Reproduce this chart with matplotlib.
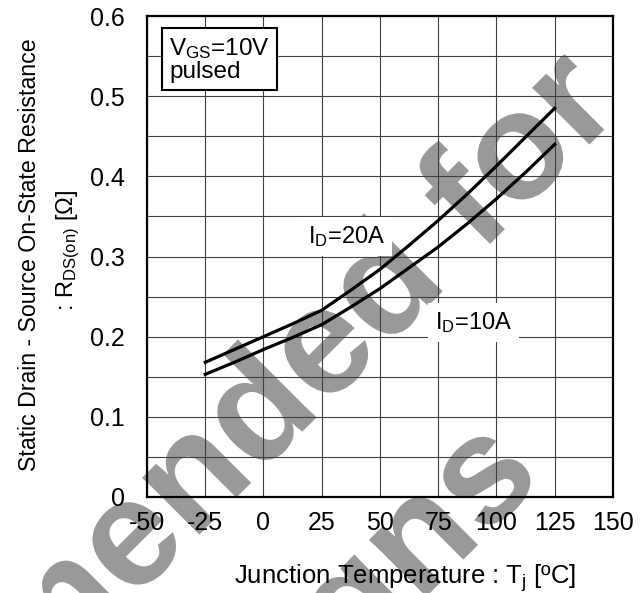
import matplotlib
matplotlib.use("Agg")
import matplotlib.pyplot as plt
import matplotlib.patheffects as pe
from matplotlib import rc

rc("font", family="Liberation Sans", size=18)
rc("mathtext", fontset="custom", rm="Liberation Sans", it="Liberation Sans")
rc("axes", unicode_minus=False)

# junction temperature (degC) and R_DS(on) (ohm)
temp = [-25, -12.5, 0, 12.5, 25, 37.5, 50, 62.5, 75, 87.5, 100, 112.5, 125]
r_20a = [0.168, 0.184, 0.200, 0.216, 0.233, 0.258, 0.284, 0.314, 0.345,
         0.378, 0.413, 0.449, 0.485]
r_10a = [0.153, 0.168, 0.184, 0.199, 0.215, 0.237, 0.260, 0.286, 0.312,
         0.341, 0.372, 0.405, 0.440]

xticks = [-50, -25, 0, 25, 50, 75, 100, 125, 150]
yticks = [0, 0.1, 0.2, 0.3, 0.4, 0.5, 0.6]
ylabels = ["0", "0.1", "0.2", "0.3", "0.4", "0.5", "0.6"]

fig = plt.figure(figsize=(6.43, 5.93), dpi=100)
ax = fig.add_axes((0.2286, 0.1619, 0.7247, 0.8111))

# watermark behind the grid
wm = dict(fontsize=110, fontweight="bold", color="#999999", rotation=45,
          rotation_mode="anchor", ha="right", va="baseline",
          transform=fig.transFigure, clip_on=False, zorder=0.5,
          path_effects=[pe.withStroke(linewidth=4, foreground="white")])
ax.text(624 / 643, 1 - 110 / 593, "Not Recommended for", **wm)
ax.text(545 / 643, 1 - 478 / 593, "New Designs", **wm)

ax.plot(temp, r_20a, color="black", lw=2.3, zorder=4)
ax.plot(temp, r_10a, color="black", lw=2.3, zorder=4)

ax.set_xlim(-50, 150)
ax.set_ylim(0, 0.6)
ax.set_xticks(xticks)
ax.set_yticks(yticks)
ax.set_yticklabels(ylabels)
ax.set_yticks([i * 0.05 for i in range(13)], minor=True)
ax.grid(True, which="both", color="0.25", lw=0.8)
ax.tick_params(which="both", length=0, labelsize=18)
ax.tick_params(axis="x", pad=10)
ax.tick_params(axis="y", pad=16)
for s in ax.spines.values():
    s.set_linewidth(1.6)

ax.text(-40.5, 0.546, "V$_{\\mathregular{GS}}$=10V\npulsed", fontsize=17.5,
        va="center", ha="left", linespacing=1.0, zorder=5,
        bbox=dict(boxstyle="square,pad=0.3", fc="white", ec="black", lw=1.5))
ax.text(19, 0.325, "I$_{\\mathregular{D}}$=20A", fontsize=17, va="center",
        ha="left", zorder=3,
        bbox=dict(boxstyle="square,pad=0.3", fc="white", ec="none"))
ax.text(73.5, 0.218, "I$_{\\mathregular{D}}$=10A", fontsize=17, va="center",
        ha="left", zorder=3,
        bbox=dict(boxstyle="square,pad=0.3", fc="white", ec="none"))

fig.text(405 / 643, 1 - 578 / 593, "Junction Temperature : T$_{\\mathregular{j}}$ [ºC]",
         ha="center", va="center", fontsize=18.5)
fig.text(30 / 643, 1 - 255 / 593, "Static Drain - Source On-State Resistance",
         rotation=90, ha="center", va="center", fontsize=16.7)
fig.text(68 / 643, 1 - 250 / 593, ": R$_{\\mathregular{DS(on)}}$ [$\\mathregular{\\Omega}$]",
         rotation=90, ha="center", va="center", fontsize=17)

fig.savefig("out.png", dpi=100)
